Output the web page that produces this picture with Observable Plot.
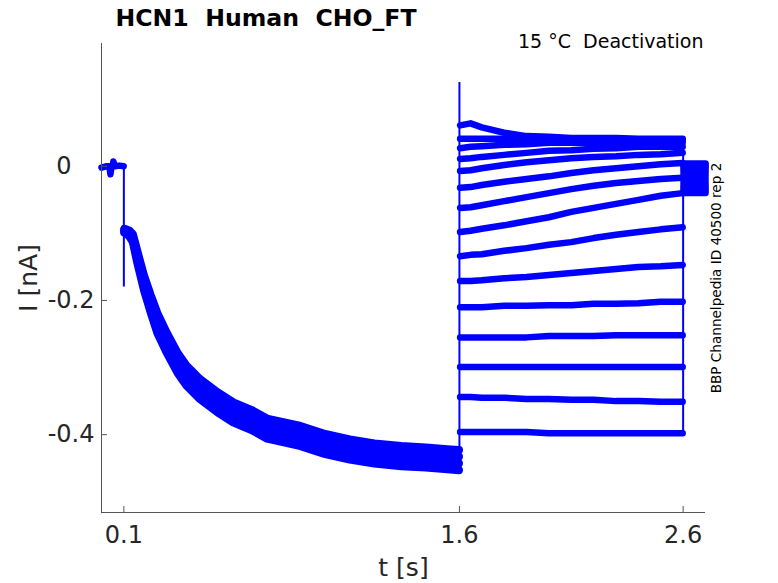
<!DOCTYPE html>
<html><head><meta charset="utf-8">
<script src="https://cdn.jsdelivr.net/npm/d3@7"></script>
<script src="https://cdn.jsdelivr.net/npm/@observablehq/plot@0.6"></script>
<style>
html,body{margin:0;padding:0;background:#fff;}
svg text{white-space:pre;}
</style></head><body><div id="chart"></div>
<script>
// axis ticks
const xTicks = [0.1, 1.6, 2.6];
const yTicks = [0, -0.2, -0.4];
const yTickLabels = ["0   ", "-0.2", "-0.4"];

// holding phase (s, nA)
const holdT = [0.0, 0.02, 0.035, 0.04, 0.045, 0.05, 0.053, 0.06, 0.08, 0.099];
const holdI = [-0.002, 0.0, 0.0, -0.012, 0.0, 0.0, 0.007, 0.0, 0.001, 0.0];

// activation phase: four overlapping sweeps forming the band
const actT = [0.102, 0.11, 0.125, 0.14, 0.16, 0.19, 0.22, 0.25, 0.29, 0.34, 0.38, 0.44, 0.52, 0.59, 0.67, 0.74, 0.89, 1.0, 1.11, 1.22, 1.34, 1.45, 1.56, 1.598];
const actA = [-0.093, -0.094, -0.096, -0.101, -0.126, -0.163, -0.192, -0.219, -0.247, -0.278, -0.297, -0.317, -0.337, -0.352, -0.363, -0.376, -0.387, -0.399, -0.407, -0.413, -0.417, -0.419, -0.422, -0.423];
const actB = [-0.095, -0.096, -0.099, -0.105, -0.132, -0.170, -0.200, -0.229, -0.257, -0.288, -0.307, -0.327, -0.347, -0.362, -0.373, -0.386, -0.397, -0.409, -0.417, -0.423, -0.427, -0.429, -0.432, -0.433];
const actC = [-0.097, -0.098, -0.102, -0.109, -0.138, -0.178, -0.210, -0.239, -0.267, -0.298, -0.317, -0.337, -0.357, -0.372, -0.383, -0.396, -0.407, -0.419, -0.427, -0.433, -0.437, -0.439, -0.442, -0.443];
const actD = [-0.099, -0.100, -0.105, -0.113, -0.144, -0.185, -0.218, -0.249, -0.277, -0.308, -0.327, -0.347, -0.367, -0.382, -0.393, -0.406, -0.417, -0.429, -0.437, -0.443, -0.447, -0.449, -0.452, -0.453];

// transient spikes at the voltage steps
const spikeAct = -0.18;
const spikeDeact = 0.125;

// deactivation phase, one row per sweep
const deactT = [1.603, 1.65, 1.7, 1.8, 1.9, 2.0, 2.1, 2.2, 2.3, 2.4, 2.5, 2.598];
const deactSweeps = [
  [0.061, 0.064, 0.058, 0.050, 0.045, 0.044, 0.042, 0.042, 0.042, 0.041, 0.041, 0.041],
  [0.041, 0.041, 0.041, 0.041, 0.039, 0.039, 0.039, 0.039, 0.039, 0.039, 0.039, 0.039],
  [0.027, 0.029, 0.030, 0.032, 0.033, 0.035, 0.035, 0.035, 0.035, 0.035, 0.035, 0.035],
  [0.011, 0.012, 0.014, 0.017, 0.020, 0.023, 0.024, 0.026, 0.027, 0.029, 0.029, 0.029],
  [-0.007, -0.006, -0.003, 0.002, 0.006, 0.009, 0.012, 0.014, 0.015, 0.017, 0.018, 0.020],
  [-0.032, -0.031, -0.028, -0.023, -0.019, -0.015, -0.010, -0.006, -0.003, 0.000, 0.003, 0.005],
  [-0.062, -0.061, -0.058, -0.052, -0.046, -0.040, -0.034, -0.029, -0.025, -0.022, -0.019, -0.017],
  [-0.098, -0.096, -0.093, -0.088, -0.082, -0.076, -0.068, -0.062, -0.056, -0.050, -0.044, -0.040],
  [-0.134, -0.132, -0.131, -0.126, -0.122, -0.117, -0.113, -0.107, -0.102, -0.098, -0.094, -0.091],
  [-0.171, -0.171, -0.170, -0.167, -0.165, -0.162, -0.159, -0.156, -0.153, -0.150, -0.149, -0.147],
  [-0.210, -0.210, -0.210, -0.208, -0.208, -0.207, -0.207, -0.205, -0.205, -0.204, -0.202, -0.202],
  [-0.255, -0.255, -0.255, -0.255, -0.255, -0.253, -0.253, -0.253, -0.252, -0.252, -0.252, -0.252],
  [-0.299, -0.299, -0.299, -0.299, -0.299, -0.299, -0.299, -0.299, -0.299, -0.299, -0.299, -0.299],
  [-0.344, -0.344, -0.345, -0.345, -0.347, -0.347, -0.348, -0.348, -0.350, -0.350, -0.351, -0.351],
  [-0.396, -0.396, -0.396, -0.396, -0.396, -0.398, -0.398, -0.398, -0.398, -0.398, -0.398, -0.398]
];

// tail after returning to holding potential
const tailT = [2.602, 2.7];
const tailI = [0.004, 0.002, 0.0, -0.002, -0.005, -0.008, -0.012, -0.016, -0.020, -0.024, -0.028, -0.031, -0.034, -0.037, -0.040];

// ---- build tables ----
const actRows = [];
[["actA", actA], ["actB", actB], ["actC", actC], ["actD", actD]].forEach(([k, arr]) =>
  actT.forEach((t, j) => actRows.push({key: k, t, i: arr[j]})));
const rows = [];
holdT.forEach((t, j) => rows.push({key: "hold", t, i: holdI[j]}));
deactSweeps.forEach((sw, s) => deactT.forEach((t, j) => rows.push({key: "d" + s, t, i: sw[j]})));
tailI.forEach((v, s) => tailT.forEach(t => rows.push({key: "tail" + s, t, i: v})));

const actEnds = [actA, actB, actC, actD].map(a => a[a.length - 1]);
const deactEnds = deactSweeps.map(a => a[a.length - 1]);
const steps = [
  {t: 0.1, lo: spikeAct, hi: holdI[holdI.length - 1]},
  {t: 1.6, lo: d3.min(actEnds), hi: spikeDeact},
  {t: 2.6, lo: d3.min(deactEnds), hi: d3.max(deactEnds)}
];

const blue = "#0000ff";
const ink = "#262626";
const font = "DejaVu Sans";

const chart = Plot.plot({
  width: 778,
  height: 583,
  marginLeft: 101,
  marginRight: 73,
  marginTop: 43,
  marginBottom: 71,
  style: {fontFamily: font, background: "#fff"},
  x: {domain: [0, 2.7], axis: null},
  y: {domain: [-0.516, 0.183], axis: null},
  marks: [
    Plot.line(actRows, {x: "t", y: "i", z: "key", stroke: blue, strokeWidth: 8, strokeLinejoin: "round"}),
    Plot.line(rows, {x: "t", y: "i", z: "key", stroke: blue, strokeWidth: 6.5, strokeLinejoin: "round"}),
    Plot.ruleX(steps, {x: "t", y1: "lo", y2: "hi", stroke: blue, strokeWidth: 2}),
    // axis lines
    Plot.ruleX([0], {stroke: "#555", strokeWidth: 1}),
    Plot.ruleY([-0.516], {stroke: "#555", strokeWidth: 1}),
    // inward ticks
    Plot.tickX(xTicks, {x: d => d, insetTop: 463, stroke: "#555"}),
    Plot.tickY(yTicks, {y: d => d, insetRight: 598, stroke: "#555"}),
    // tick labels
    Plot.text(xTicks, {x: d => d, frameAnchor: "bottom", lineAnchor: "middle", dy: 23, text: d => String(d), fontSize: 24, fill: ink}),
    Plot.text(yTicks, {y: d => d, frameAnchor: "left", lineAnchor: "middle", dx: -7, textAnchor: "end", text: (d, j) => yTickLabels[j], fontSize: 24, fill: ink}),
    // axis labels
    Plot.text(["t [s]"], {frameAnchor: "bottom", lineAnchor: "middle", textAnchor: "middle", dy: 55, text: d => d, fontSize: 25, fill: ink}),
    Plot.text(["I [nA]"], {frameAnchor: "left", lineAnchor: "middle", textAnchor: "middle", dx: -73, rotate: -90, text: d => d, fontSize: 25, fill: ink}),
    // titles
    Plot.text(["HCN1  Human  CHO_FT"], {frameAnchor: "top-left", lineAnchor: "middle", dx: 14, dy: -25, textAnchor: "start", text: d => d, fontSize: 23.6, fontWeight: "bold", fill: "#000"}),
    Plot.text(["15 °C  Deactivation"], {frameAnchor: "top-right", lineAnchor: "middle", dx: -2, dy: -2, textAnchor: "end", text: d => d, fontSize: 19, fill: "#000"}),
    Plot.text(["BBP Channelpedia ID 40500 rep 2"], {frameAnchor: "right", lineAnchor: "middle", textAnchor: "middle", dx: 11, rotate: -90, text: d => d, fontSize: 13.6, fill: "#000"})
  ]
});
document.getElementById("chart").appendChild(chart);
</script>
</body></html>
